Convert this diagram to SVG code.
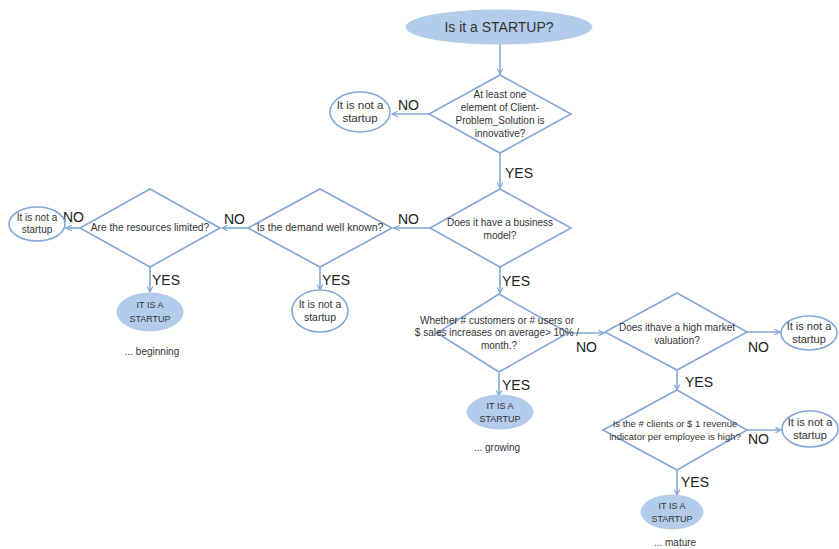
<svg xmlns="http://www.w3.org/2000/svg" width="839" height="549" viewBox="0 0 839 549">
<defs>
<style>
.shape{fill:#fff;stroke:#84a7d6;stroke-width:1.6}
.term{fill:#b3cceb;stroke:#b3cceb;stroke-width:1}
.conn{fill:none;stroke:#84a7d6;stroke-width:1.6;marker-end:url(#arr)}
text{font-family:"Liberation Sans",Arial,sans-serif;fill:#333;text-anchor:middle}
.q{font-size:10px}
.lbl{font-size:14px;fill:#222;text-anchor:start}
.t{font-size:9px}
.c{font-size:10px}
</style>
<marker id="arr" viewBox="0 0 10 10" refX="9" refY="5" markerWidth="7" markerHeight="7" orient="auto" markerUnits="userSpaceOnUse">
<path d="M1,1 L9,5 L1,9" fill="none" stroke="#84a7d6" stroke-width="1.6"/>
</marker>
</defs>
<rect width="839" height="549" fill="#fff"/>

<g id="connectors">
<path class="conn" d="M500,44 L500,74"/>
<path class="conn" d="M429,114 L392,114"/>
<path class="conn" d="M500,153 L500,188"/>
<path class="conn" d="M430,228 L394,228"/>
<path class="conn" d="M248,228 L222,228"/>
<path class="conn" d="M80,228 L66,228"/>
<path class="conn" d="M150,267 L150,292"/>
<path class="conn" d="M320,267 L320,290"/>
<path class="conn" d="M500,267 L500,293"/>
<path class="conn" d="M568,333 L604,333"/>
<path class="conn" d="M499,373 L499,396"/>
<path class="conn" d="M747,332 L780,332"/>
<path class="conn" d="M677,370 L677,390"/>
<path class="conn" d="M747,430 L781,430"/>
<path class="conn" d="M677,470 L677,495"/>
</g>

<g id="labels">
<text class="lbl" x="398" y="110">NO</text>
<text class="lbl" x="505" y="178">YES</text>
<text class="lbl" x="398" y="224">NO</text>
<text class="lbl" x="224" y="224">NO</text>
<text class="lbl" x="63" y="222">NO</text>
<text class="lbl" x="152" y="285">YES</text>
<text class="lbl" x="322" y="285">YES</text>
<text class="lbl" x="502" y="286">YES</text>
<text class="lbl" x="576" y="352">NO</text>
<text class="lbl" x="502" y="390">YES</text>
<text class="lbl" x="748" y="352">NO</text>
<text class="lbl" x="685" y="387">YES</text>
<text class="lbl" x="748" y="444">NO</text>
<text class="lbl" x="681" y="487">YES</text>
</g>

<g id="start">
<ellipse class="term" cx="499" cy="27" rx="93" ry="17"/>
<text x="499" y="32" style="font-size:14px">Is it a STARTUP?</text>
</g>

<g id="q1">
<polygon class="shape" points="500,75 571,114 500,153 429,114"/>
<text class="q" x="500" y="98">At least one</text>
<text class="q" x="500" y="111">element of Client-</text>
<text class="q" x="500" y="124">Problem_Solution is</text>
<text class="q" x="500" y="137">innovative?</text>
</g>

<g id="no1">
<ellipse class="shape" cx="360" cy="112" rx="30" ry="20"/>
<text class="c" x="360" y="109" style="font-size:11.5px">It is not a</text>
<text class="c" x="360" y="122" style="font-size:11.5px">startup</text>
</g>

<g id="q2">
<polygon class="shape" points="500,189 571,228 500,267 430,228"/>
<text class="q" x="500" y="226">Does it have a business</text>
<text class="q" x="500" y="239">model?</text>
</g>

<g id="q3">
<polygon class="shape" points="320,189 392,228 320,267 248,228"/>
<text class="q" x="320" y="231" style="font-size:10.5px">Is the demand well known?</text>
</g>

<g id="no3">
<ellipse class="shape" cx="320" cy="311" rx="28" ry="21"/>
<text class="c" x="320" y="308" style="font-size:10.5px">It is not a</text>
<text class="c" x="320" y="321" style="font-size:10.5px">startup</text>
</g>

<g id="q4">
<polygon class="shape" points="150,189 220,228 150,267 80,228"/>
<text class="q" x="150" y="231" style="font-size:10.2px">Are the resources limited?</text>
</g>

<g id="no4">
<ellipse class="shape" cx="37" cy="224" rx="28" ry="17"/>
<text class="c" x="37" y="221">It is not a</text>
<text class="c" x="37" y="233">startup</text>
</g>

<g id="yes4">
<ellipse class="term" cx="150" cy="312" rx="33" ry="19"/>
<text class="t" x="150" y="308">IT IS A</text>
<text class="t" x="150" y="322">STARTUP</text>
<text class="c" x="152" y="355">... beginning</text>
</g>

<g id="q5">
<polygon class="shape" points="499,294 568,333 499,372 437,333"/>
<text class="q" x="497" y="324">Whether # customers or # users or</text>
<text class="q" x="497" y="336">$ sales increases on average&gt;  10% /</text>
<text class="q" x="499" y="349">month.?</text>
</g>

<g id="yes5">
<ellipse class="term" cx="500" cy="412" rx="33" ry="17"/>
<text class="t" x="500" y="409">IT IS A</text>
<text class="t" x="500" y="422">STARTUP</text>
<text class="c" x="497" y="451">... growing</text>
</g>

<g id="q6">
<polygon class="shape" points="677,293 747,332 677,370 605,332"/>
<text class="q" x="677" y="331">Does ithave a high market</text>
<text class="q" x="677" y="344">valuation?</text>
</g>

<g id="no6">
<ellipse class="shape" cx="809" cy="333" rx="28" ry="17"/>
<text class="c" x="809" y="330" style="font-size:11px">It is not a</text>
<text class="c" x="809" y="343" style="font-size:11px">startup</text>
</g>

<g id="q7">
<polygon class="shape" points="677,390 747,430 677,470 603,430"/>
<text class="q" x="675" y="427" style="font-size:9.5px">Is the # clients or $ 1 revenue</text>
<text class="q" x="675" y="440" style="font-size:9.5px">indicator per employee is high?</text>
</g>

<g id="no7">
<ellipse class="shape" cx="810" cy="429" rx="28" ry="18"/>
<text class="c" x="810" y="426" style="font-size:11px">It is not a</text>
<text class="c" x="810" y="439" style="font-size:11px">startup</text>
</g>

<g id="yes7">
<ellipse class="term" cx="672" cy="512" rx="31" ry="17"/>
<text class="t" x="672" y="509">IT IS A</text>
<text class="t" x="672" y="522">STARTUP</text>
<text class="c" x="675" y="546">... mature</text>
</g>
</svg>
